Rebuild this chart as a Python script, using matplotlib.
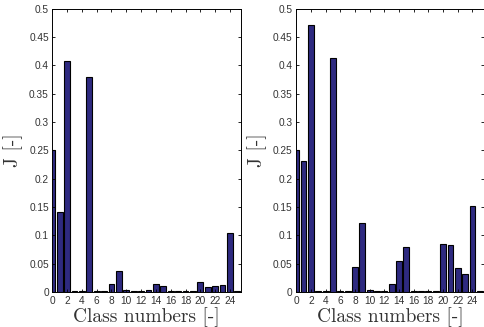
import numpy as np
import matplotlib
matplotlib.use("Agg")
import matplotlib.pyplot as plt

# class indices 0..25
classes = np.arange(26)

# J per class, left panel
j_left = [0.251, 0.142, 0.408, 0.001, 0.001, 0.379, 0.002, 0.001, 0.015, 0.037,
          0.003, 0.001, 0.001, 0.004, 0.014, 0.010, 0.001, 0.001, 0.001, 0.001,
          0.018, 0.009, 0.010, 0.013, 0.104, 0.002]

# J per class, right panel
j_right = [0.251, 0.232, 0.471, 0.001, 0.001, 0.413, 0.002, 0.001, 0.044, 0.122,
           0.004, 0.001, 0.001, 0.015, 0.054, 0.080, 0.001, 0.002, 0.001, 0.001,
           0.084, 0.083, 0.042, 0.032, 0.151, 0.002]

xticks = np.arange(0, 25, 2)
yticks = np.arange(0, 0.501, 0.05)
ytick_labels = ["0", "0.05", "0.1", "0.15", "0.2", "0.25", "0.3", "0.35", "0.4", "0.45", "0.5"]

bar_color = "#2e2a80"
label_font = "cmr10"
tick_font = "Liberation Sans"

fig = plt.figure(figsize=(4.84, 3.27), dpi=100)
ax_l = fig.add_axes([0.108, 0.107, 0.390, 0.866])
ax_r = fig.add_axes([0.612, 0.107, 0.387, 0.866])

for ax, vals in [(ax_l, j_left), (ax_r, j_right)]:
    ax.bar(classes, vals, width=0.8, color=bar_color, edgecolor="black", linewidth=0.8)
    ax.set_xlim(0, 25.5)
    ax.set_ylim(0, 0.5)
    ax.set_xticks(xticks)
    ax.set_yticks(yticks)
    ax.set_yticklabels(ytick_labels)
    ax.tick_params(direction="in", length=2.5, width=0.6, top=True, right=True,
                   labelsize=7.3, colors="black")
    ax.tick_params(axis="x", pad=3)
    ax.tick_params(axis="y", pad=2.5)
    for lab in ax.get_xticklabels() + ax.get_yticklabels():
        lab.set_fontfamily(tick_font)
        lab.set_color("#333333")
    for sp in ax.spines.values():
        sp.set_linewidth(0.7)
    ax.set_xlabel("Class numbers [-]", fontfamily=label_font, fontsize=14,
                  color="#333333", labelpad=1)
    ax.set_ylabel("J [-]", fontfamily=label_font, fontsize=14,
                  color="#333333", labelpad=4)

fig.savefig("out.png", dpi=100)
